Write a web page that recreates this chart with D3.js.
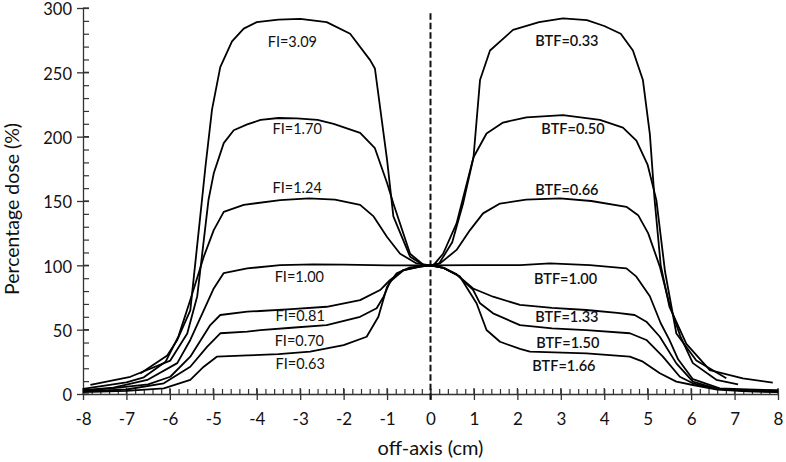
<!DOCTYPE html>
<html>
<head>
<meta charset="utf-8">
<script src="https://cdn.jsdelivr.net/npm/d3@7"></script>
<style>
  body { margin: 0; background: #fff; }
  text { font-family: Lato, "Open Sans", sans-serif; fill: #111; }
</style>
</head>
<body>
<svg id="chart"></svg>
<script>
// profile curves, [off-axis cm, percentage dose]
let curveA = [[-6.68,16],[-6.06,30],[-5.83,42],[-5.53,65],[-5.26,151],[-5.18,177],[-5.03,221],[-4.84,254],[-4.57,274],[-4.3,284],[-4.0,289],[-3.5,291],[-3.0,291.5],[-2.39,289],[-1.85,280],[-1.39,259.5],[-1.28,253],[-1.0,182],[-0.855,138],[-0.47,106.7],[-0.165,100.2],[0,100],
    [0.07,100.2],[0.29,109],[0.6,132.6],[0.99,184],[1.14,244],[1.37,267],[1.9,283],[2.5,289],[3.05,291.9],[3.6,290.5],[4.0,286],[4.38,280],[4.66,267],[4.89,244],[5.05,202],[5.16,150.7],[5.3,100],[5.5,68],[5.89,39],[6.43,18.6],[7.19,12.2],[7.88,8.8]];

let curveB = [[-7.83,7],[-6.91,13.4],[-5.99,26],[-5.6,47],[-5.37,76],[-5.11,151],[-4.99,171.5],[-4.76,195],[-4.53,205],[-4.22,209.5],[-3.91,213],[-3.5,214.5],[-3.08,214.2],[-2.6,213],[-2.23,210],[-1.62,203],[-1.28,191],[-1.0,164],[-0.855,148],[-0.47,109],[-0.16,100.3],[0,100],
    [0.2,101.5],[0.5,118],[0.75,148],[0.99,184],[1.29,202.5],[1.67,211],[2.21,215],[3.05,216.8],[3.9,213],[4.43,207],[4.74,197],[5.0,178],[5.2,150.7],[5.4,95],[5.66,47],[6.12,26],[6.81,12.2]];

let curveC = [[-8,4],[-7.0,9],[-6.6,13],[-6.1,25],[-5.8,45],[-5.53,73],[-5.22,106.7],[-4.99,127.4],[-4.76,141.6],[-4.3,147],[-3.46,150.7],[-2.8,152],[-2.2,151],[-1.62,147],[-1.31,138],[-1.0,122],[-0.7,109],[-0.32,101.5],[0,100],
    [0.22,101.5],[0.6,112],[0.91,127.4],[1.21,140.4],[1.6,148],[2.2,151],[2.98,152],[3.7,150],[4.51,145.5],[4.78,139],[5.01,125],[5.28,99],[5.5,70],[5.75,45],[6.04,24],[6.58,11],[7.08,7.5]];

let curveD = [[-8,3],[-7.3,5],[-6.52,10.9],[-5.83,24],[-5.53,42],[-5.22,65],[-4.99,82],[-4.76,94],[-4.22,97.6],[-3.46,100.2],[-2.7,100.8],[-2.0,100.5],[-1.0,100],[0,100],
    [1.0,100.2],[2.06,100.2],[2.75,101.5],[3.67,100.2],[4.51,97.6],[4.74,91.2],[5.05,76],[5.3,55],[5.5,42],[5.7,27],[6.04,11.5],[6.66,4.4],[7.3,3.5],[8,3]];

let curveE = [[-8,2.5],[-7.3,4.5],[-6.5,7.5],[-5.99,13.4],[-5.53,29],[-5.07,53.6],[-4.84,61.4],[-4.22,64],[-3.92,64.5],[-3.2,66],[-2.39,67.8],[-1.62,73],[-1.16,80.8],[-0.93,88.6],[-0.63,96.3],[-0.24,99],[0,100],
    [0.3,98],[0.6,93],[0.98,82],[1.44,75.6],[2.06,69.2],[2.8,67],[3.59,65.3],[4.3,63],[4.7,61.4],[4.97,56.2],[5.28,44.5],[5.66,23.8],[6.04,9.6],[6.6,4],[7.3,2.5],[8,2]];

let curveF = [[-8,2],[-7,3.5],[-6.14,8.3],[-5.53,21.2],[-5.14,36.8],[-4.84,47.2],[-4.22,48.4],[-3.92,49.7],[-3.2,51.5],[-2.39,53.6],[-1.62,60],[-1.24,66.6],[-1.08,75.6],[-0.93,87.3],[-0.63,96],[-0.24,99],[0,100],
    [0.3,98],[0.6,93],[0.98,81],[1.14,70.5],[1.44,62.7],[2.06,53.5],[2.8,51],[3.59,49.7],[4.59,47.2],[4.97,42],[5.35,29],[5.74,13.4],[6.04,8.3],[6.6,4],[7.3,2.5],[8,2]];

let curveG = [[-8,1.5],[-7,2.5],[-6.14,4.4],[-5.53,10.9],[-5.22,21.2],[-4.92,29],[-4.22,30],[-3.5,31],[-2.77,32.9],[-2.0,38],[-1.47,44.5],[-1.2,60],[-1.0,83.4],[-0.78,93.8],[-0.47,98.4],[0,100],
    [0.3,98],[0.68,91.2],[1.06,70.5],[1.29,49.7],[1.6,40.6],[2.06,35],[2.29,33],[3.59,31.6],[4.59,29],[4.89,25.1],[5.28,16.1],[5.66,9.6],[6.04,7],[6.6,3.5],[7.3,2],[8,1.5]];

let curves = [curveA, curveB, curveC, curveD, curveE, curveF, curveG];

// curve labels, left (FI) and right (BTF), placed at [x, y] in data units
let fiLabels = ["FI=3.09", "FI=1.70", "FI=1.24", "FI=1.00", "FI=0.81", "FI=0.70", "FI=0.63"];
let fiLabelX = [-3.18, -3.07, -3.07, -3.02, -3.0, -3.02, -3.0];
let fiLabelY = [273.5, 205.9, 160.1, 90.9, 60.6, 41.2, 23.3];
let btfLabels = ["BTF=0.33", "BTF=0.50", "BTF=0.66", "BTF=1.00", "BTF=1.33", "BTF=1.50", "BTF=1.66"];
let btfLabelX = [3.14, 3.28, 3.14, 3.11, 3.14, 3.16, 3.07];
let btfLabelY = [274.3, 205.9, 158.5, 89.4, 59.8, 39.6, 21.8];

let xTicks = d3.range(-8, 9, 1);
let xMinor = d3.range(-8, 8.01, 0.2).map(v => Math.round(v * 10) / 10);
let yTicks = [0, 50, 100, 150, 200, 250, 300];
let yMinor = d3.range(0, 301, 10);

let width = 786, height = 462;
let margin = {top: 8, right: 8, bottom: 68, left: 83};

let svg = d3.select("#chart")
    .attr("width", width)
    .attr("height", height)
    .style("background-color", "#fff");

let x = d3.scaleLinear().domain([-8, 8]).range([margin.left, width - margin.right]);
let y = d3.scaleLinear().domain([0, 300]).range([height - margin.bottom, margin.top]);

//y axis: minor ticks inside, major ticks through
svg.append("g")
    .attr("transform", "translate(" + x(-8) + ",0)")
    .call(d3.axisLeft(y).tickValues(yMinor).tickSize(-6).tickFormat(""))
    .call(g => g.select(".domain").remove())
    .selectAll("line").attr("stroke", "#333").attr("stroke-width", 1.2);

svg.append("g")
    .attr("transform", "translate(" + x(-8) + ",0)")
    .call(d3.axisLeft(y).tickValues(yTicks).tickSizeInner(6).tickSizeOuter(0).tickPadding(5).tickFormat(d => String(d)))
    .call(g => g.select(".domain").attr("stroke", "#333").attr("stroke-width", 1.3))
    .call(g => g.selectAll("line").attr("stroke", "#333").attr("stroke-width", 1.3))
    .call(g => g.selectAll("text").attr("dy", "0.42em").style("font-size", "16.5px").style("font-family", "Lato, sans-serif").attr("fill", "#111"));

svg.selectAll(".ymaj-in")
    .data(yTicks)
    .enter()
    .append("line")
    .attr("x1", x(-8)).attr("x2", x(-8) + 6)
    .attr("y1", d => y(d)).attr("y2", d => y(d))
    .attr("stroke", "#333").attr("stroke-width", 1.3);

//x axis
svg.append("g")
    .attr("transform", "translate(0," + y(0) + ")")
    .call(d3.axisBottom(x).tickValues(xMinor).tickSize(-5).tickFormat(""))
    .call(g => g.select(".domain").remove())
    .selectAll("line").attr("stroke", "#333").attr("stroke-width", 1.2);

svg.append("g")
    .attr("transform", "translate(0," + y(0) + ")")
    .call(d3.axisBottom(x).tickValues(xTicks).tickSizeInner(6).tickSizeOuter(0).tickPadding(13).tickFormat(d => String(d)))
    .call(g => g.select(".domain").attr("stroke", "#333").attr("stroke-width", 1.3))
    .call(g => g.selectAll("line").attr("stroke", "#333").attr("stroke-width", 1.3))
    .call(g => g.selectAll("text").style("font-size", "17px").style("font-family", "Lato, sans-serif").attr("fill", "#111"));

svg.selectAll(".xmaj-in")
    .data(xTicks)
    .enter()
    .append("line")
    .attr("x1", d => x(d)).attr("x2", d => x(d))
    .attr("y1", y(0)).attr("y2", y(0) - 6)
    .attr("stroke", "#333").attr("stroke-width", 1.3);

//axis titles
svg.append("text")
    .attr("x", x(0))
    .attr("y", 455)
    .attr("text-anchor", "middle")
    .style("font-size", "20px")
    .text("off-axis (cm)");

svg.append("text")
    .attr("transform", "translate(19," + 209 + ") rotate(-90)")
    .attr("text-anchor", "middle")
    .style("font-size", "19.5px")
    .text("Percentage dose (%)");

//central axis
svg.append("line")
    .attr("x1", x(0)).attr("x2", x(0))
    .attr("y1", y(296)).attr("y2", y(-4.5))
    .attr("stroke", "#111")
    .attr("stroke-width", 2)
    .attr("stroke-dasharray", "6.5,3");

//profiles
let line = d3.line()
    .x(d => x(d[0]))
    .y(d => y(d[1]))
    .curve(d3.curveLinear);

svg.selectAll(".profile")
    .data(curves)
    .enter()
    .append("path")
    .attr("class", "profile")
    .attr("d", line)
    .attr("fill", "none")
    .attr("stroke", "#000")
    .attr("stroke-width", 1.8)
    .attr("stroke-linejoin", "round");

//labels
svg.selectAll(".fi")
    .data(fiLabels)
    .enter()
    .append("text")
    .attr("x", (d, i) => x(fiLabelX[i]))
    .attr("y", (d, i) => y(fiLabelY[i]))
    .attr("dy", "0.36em")
    .attr("text-anchor", "middle")
    .style("font-size", "14.5px")
    .text(d => d);

svg.selectAll(".btf")
    .data(btfLabels)
    .enter()
    .append("text")
    .attr("x", (d, i) => x(btfLabelX[i]))
    .attr("y", (d, i) => y(btfLabelY[i]))
    .attr("dy", "0.36em")
    .attr("text-anchor", "middle")
    .style("font-size", "14.5px")
    .style("font-weight", "600")
    .text(d => d);
</script>
</body>
</html>
